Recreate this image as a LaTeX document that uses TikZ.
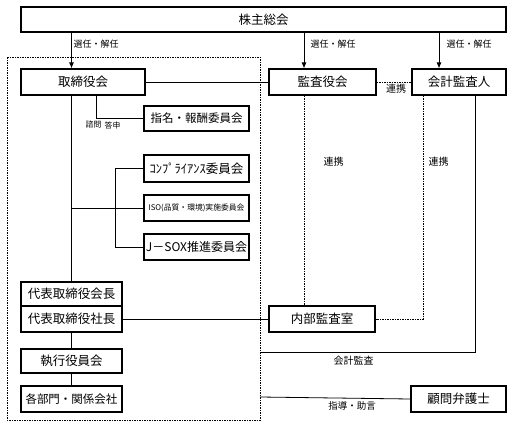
\documentclass[tikz,border=0pt]{standalone}
\usepackage{fontspec}
\newfontfamily\jp{Noto Sans CJK JP}
\usetikzlibrary{arrows.meta}
\begin{document}
\begin{tikzpicture}[x=1pt,y=-1pt,
  box/.style={draw, line width=1.2pt, rectangle, inner sep=0pt, font=\jp\fontsize{12.5}{13}\selectfont},
  conn/.style={line width=0.8pt},
  dots/.style={line width=0.8pt, dash pattern=on 1.5pt off 1pt},
  arr/.style={line width=0.8pt, -{Latex[length=6pt,width=5pt]}},
  lbl/.style={inner sep=0pt, font=\jp\fontsize{9}{10}\selectfont},
  lblb/.style={inner sep=0pt, font=\jp\fontsize{10}{11}\selectfont},
]
\useasboundingbox (0,0) rectangle (512,426);
% dashed company border
\draw[dots] (7,57) rectangle (260,420);
% boxes
\node[box, minimum width=485pt, minimum height=25pt] (sh) at (263.5,19.5) {株主総会};
\node[box, minimum width=124pt, minimum height=26pt] (tb) at (83,82) {取締役会};
\node[box, minimum width=105pt, minimum height=25pt, font=\jp\fontsize{11.5}{12}\selectfont] (sm) at (196.5,118.5) {指名・報酬委員会};
\node[box, minimum width=105pt, minimum height=27pt] (cp) at (196.5,168.5) {ｺﾝﾌﾟﾗｲｱﾝｽ委員会};
\node[box, minimum width=105pt, minimum height=26pt, font=\jp\fontsize{7.8}{8}\selectfont] (iso) at (196.5,208) {ISO(品質・環境)実施委員会};
\node[box, minimum width=105pt, minimum height=26pt, font=\jp\fontsize{12}{13}\selectfont] (js) at (196.5,247) {J－SOX推進委員会};
\node[box, minimum width=101pt, minimum height=24pt] (kc) at (71.5,294) {代表取締役会長};
\node[box, minimum width=101pt, minimum height=26pt] (sc) at (71.5,319) {代表取締役社長};
\node[box, minimum width=101pt, minimum height=24pt] (sy) at (71.5,361) {執行役員会};
\node[box, minimum width=101pt, minimum height=26pt, font=\jp\fontsize{11.5}{12}\selectfont] (kb) at (71.5,399) {各部門・関係会社};
\node[box, minimum width=107pt, minimum height=26pt] (ka) at (322.5,82) {監査役会};
\node[box, minimum width=94pt, minimum height=26pt] (kk) at (459,82) {会計監査人};
\node[box, minimum width=106pt, minimum height=26pt] (na) at (322,319) {内部監査室};
\node[box, minimum width=95pt, minimum height=26pt] (ko) at (458.5,399) {顧問弁護士};
% helper coordinates
\coordinate (ax) at (304,0);
\coordinate (bx) at (439,0);
\coordinate (cx) at (423,0);
\coordinate (dx) at (475,0);
\coordinate (ex) at (96,0);
\coordinate (da) at (260,352);
\coordinate (db) at (260,397);
% arrows from shareholders
\draw[arr] (sh.south -| kc) -- (tb.north -| kc);
\draw[arr] (sh.south -| ax) -- (ka.north -| ax);
\draw[arr] (sh.south -| bx) -- (kk.north -| bx);
\node[lbl] (l1) at (96,44) {選任・解任};
\node[lbl] (l2) at (333,44) {選任・解任};
\node[lbl] (l3) at (469,44) {選任・解任};
% board connections
\draw[conn] (tb.east) -- (ka.west);
\draw[dots] (ka.east) -- (kk.west);
\node[lblb] (l4) at (396,89) {連携};
\draw[conn] (tb.south -| ex) |- (sm.west);
\node[lbl, font=\jp\fontsize{7.8}{8}\selectfont] (l5) at (93.5,125) {諮問};
\node[lbl, font=\jp\fontsize{7.8}{8}\selectfont] (l6) at (112.5,125) {答申};
\draw[conn] (tb.south -| kc) -- (kc.north);
\draw[conn] (kc.north |- iso.west) -- (iso.west);
\draw[conn] (cp.west) -- ++(-28,0) |- (js.west);
\draw[conn] (sc.south) -- (sy.north);
\draw[conn] (sy.south) -- (kb.north);
\draw[conn] (sc.east) -- (na.west);
% audit connections
\draw[dots] (ka.south -| ax) -- (na.north -| ax);
\draw[dots] (kk.south -| cx) |- (na.east);
\node[lblb] (l7) at (333.5,162) {連携};
\node[lblb] (l8) at (438.5,162) {連携};
\draw[conn] (kk.south -| dx) |- (da);
\node[lblb] (l9) at (353.5,361) {会計監査};
\draw[conn] (ko.west) -- (db);
\node[lbl, font=\jp\fontsize{9.5}{10}\selectfont] (l10) at (352,406) {指導・助言};
\end{tikzpicture}
\end{document}
